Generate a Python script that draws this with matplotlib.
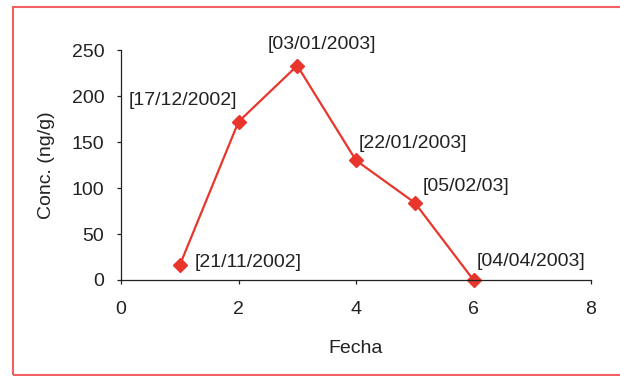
import matplotlib
matplotlib.use("Agg")
import matplotlib.pyplot as plt
from matplotlib.patches import Rectangle

plt.rcParams['font.family'] = ['Liberation Sans', 'DejaVu Sans']

# data
fecha = [1, 2, 3, 4, 5, 6]
conc = [16, 172, 233, 130, 84, 0]
labels = ["[21/11/2002]", "[17/12/2002]", "[03/01/2003]",
          "[22/01/2003]", "[05/02/03]", "[04/04/2003]"]

# label offsets (pixels) and alignment, one per point
offsets = [(15, 3), (-1, 21), (-30, 21), (3, 17), (8, 16), (3, 18)]
aligns = ["left", "right", "left", "left", "left", "left"]

red = "#e8362c"
dark = "#222222"
fs = 14

fig = plt.figure(figsize=(6.2, 3.76), dpi=100)
ax = fig.add_axes([121 / 620, 96 / 376, 470 / 620, 230 / 376])

ax.plot(fecha, conc, color=red, lw=1.6, marker="D", ms=7.5, mec=red, mfc=red)

for x, y, lab, off, ha in zip(fecha, conc, labels, offsets, aligns):
    ax.annotate(lab, (x, y), xytext=off, textcoords="offset pixels",
                ha=ha, va="center", fontsize=fs, color=dark)

ax.set_xlim(0, 8)
ax.set_ylim(0, 250)
ax.set_xticks([0, 2, 4, 6, 8])
ax.set_yticks([0, 50, 100, 150, 200, 250])
ax.tick_params(labelsize=fs, colors=dark, length=3, width=0.9)
ax.tick_params(axis="y", pad=9)
ax.tick_params(axis="x", pad=12)

for s in ["top", "right"]:
    ax.spines[s].set_visible(False)
for s in ["left", "bottom"]:
    ax.spines[s].set_color(dark)
    ax.spines[s].set_linewidth(0.9)
for line in ax.get_lines():
    line.set_clip_on(False)

ax.set_xlabel("Fecha", fontsize=fs, color=dark, labelpad=16)
ax.set_ylabel("Conc. (ng/g)", fontsize=fs, color=dark, labelpad=12)

# red frame around the chart area (right side is cut off in the original)
fig.patches.append(Rectangle((13 / 620, 1 / 376), 1.0, 368 / 376,
                             transform=fig.transFigure, fill=False,
                             edgecolor="#f06060", lw=1.5))

fig.savefig("out.png", dpi=100)
